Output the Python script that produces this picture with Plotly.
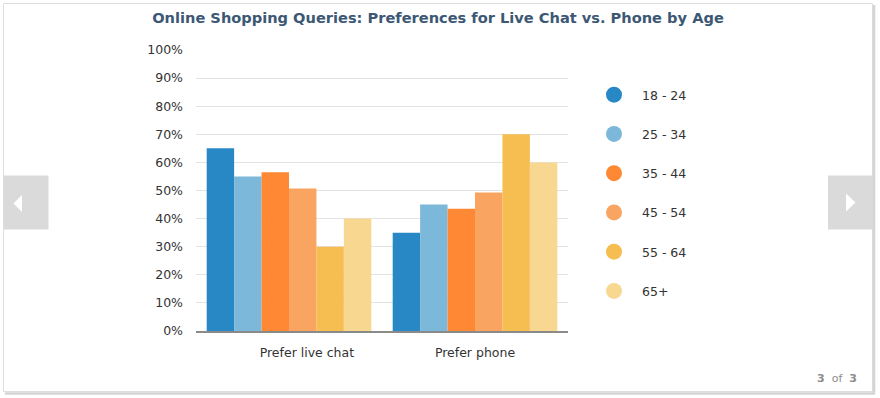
import plotly.graph_objects as go

# ---- data ----
categories = ["Prefer live chat", "Prefer phone"]
age_groups = ["18 - 24", "25 - 34", "35 - 44", "45 - 54", "55 - 64", "65+"]
prefer_live_chat = [65, 55, 56.5, 50.7, 30, 40]
prefer_phone = [35, 45, 43.5, 49.3, 70, 60]
colors = ["#2888c6", "#7bb8da", "#fe8833", "#f9a561", "#f6bd50", "#f8d791"]
y_ticks = list(range(0, 101, 10))
y_tick_labels = [f"{v}%" for v in y_ticks]

W, H = 880, 398
L, R, T, B = 196, 312, 50, 67
PW, PH = W - L - R, H - T - B
BOTTOM = H - B


def px(x):
    return (x - L) / PW


def py(y):
    return (BOTTOM - y) / PH


fig = go.Figure()
for i, name in enumerate(age_groups):
    fig.add_trace(go.Bar(
        x=categories,
        y=[prefer_live_chat[i], prefer_phone[i]],
        name=name,
        marker=dict(color=colors[i], line=dict(width=0)),
        showlegend=False,
        legendgroup=name,
    ))
for i, name in enumerate(age_groups):
    fig.add_trace(go.Scatter(
        x=[None], y=[None], mode="markers", name=name,
        marker=dict(color=colors[i], size=19, symbol="circle"),
        legendgroup=name, showlegend=True,
    ))

shapes = []
# card border + shadow
shapes.append(dict(type="rect", xref="paper", yref="paper",
                   x0=px(3.5), x1=px(872.5), y0=py(391.5), y1=py(3.5),
                   line=dict(color="#dedede", width=1), fillcolor="rgba(0,0,0,0)", layer="below"))
shapes.append(dict(type="line", xref="paper", yref="paper",
                   x0=px(874), x1=px(874), y0=py(393.5), y1=py(5),
                   line=dict(color="#d4d4d4", width=2.5)))
shapes.append(dict(type="line", xref="paper", yref="paper",
                   x0=px(5), x1=px(875), y0=py(393.5), y1=py(393.5),
                   line=dict(color="#d4d4d4", width=2.5)))
# nav buttons
shapes.append(dict(type="rect", xref="paper", yref="paper",
                   x0=px(3.5), x1=px(48.5), y0=py(229.5), y1=py(175.5),
                   line=dict(width=0), fillcolor="#dadada"))
shapes.append(dict(type="rect", xref="paper", yref="paper",
                   x0=px(828), x1=px(873), y0=py(229.5), y1=py(175.5),
                   line=dict(width=0), fillcolor="#dadada"))
shapes.append(dict(type="path", xref="paper", yref="paper",
                   path=f"M {px(13.5)} {py(203.5)} L {px(22)} {py(195)} L {px(22)} {py(212)} Z",
                   line=dict(width=0), fillcolor="#ffffff"))
shapes.append(dict(type="path", xref="paper", yref="paper",
                   path=f"M {px(855.5)} {py(202.5)} L {px(846)} {py(193.5)} L {px(846)} {py(211.5)} Z",
                   line=dict(width=0), fillcolor="#ffffff"))

annotations = [dict(
    xref="paper", yref="paper", x=px(859), y=py(378), xanchor="right", yanchor="middle",
    text="<b>3</b>&nbsp;&nbsp;of&nbsp;&nbsp;<b>3</b>", showarrow=False,
    font=dict(size=11, color="#8c8c8c", family="DejaVu Sans"),
)]

tick_text = ["\u00a0" * 9 + categories[0], categories[1]]

fig.update_layout(
    width=W, height=H,
    margin=dict(l=L, r=R, t=T, b=B, pad=0),
    paper_bgcolor="#ffffff", plot_bgcolor="#ffffff",
    font=dict(family="DejaVu Sans", size=12.5, color="#333333"),
    title=dict(
        text="Online Shopping Queries: Preferences for Live Chat vs. Phone by Age",
        x=438 / W, xref="container", xanchor="center",
        y=1 - 18 / H, yref="container", yanchor="middle",
        font=dict(family="DejaVu Sans", size=14.6, color="#3d5875", weight="bold"),
    ),
    barmode="group", bargap=0.115, bargroupgap=0,
    xaxis=dict(
        tickmode="array", tickvals=categories, ticktext=tick_text,
        showline=True, linecolor="#8a8a8a", linewidth=2,
        showgrid=False, ticks="", ticklabelstandoff=9,
        tickfont=dict(size=12.5, color="#333333"),
        range=[-0.5, 1.5],
    ),
    yaxis=dict(
        range=[0, 100], tickmode="array", tickvals=y_ticks, ticktext=y_tick_labels,
        showgrid=True, gridcolor="#e3e3e3", gridwidth=1,
        zeroline=False, showline=False, ticks="", ticklabelstandoff=12,
        tickfont=dict(size=12.5, color="#333333"),
    ),
    legend=dict(
        x=px(586), xanchor="left", y=py(80), yanchor="top",
        itemwidth=46, tracegroupgap=20,
        font=dict(size=12.5, color="#333333"),
        bgcolor="rgba(0,0,0,0)",
    ),
    shapes=shapes,
    annotations=annotations,
)

fig.write_html(
    "out.html",
    config={"displayModeBar": False},
    post_script="document.body.style.margin='0';document.body.style.padding='0';",
)
